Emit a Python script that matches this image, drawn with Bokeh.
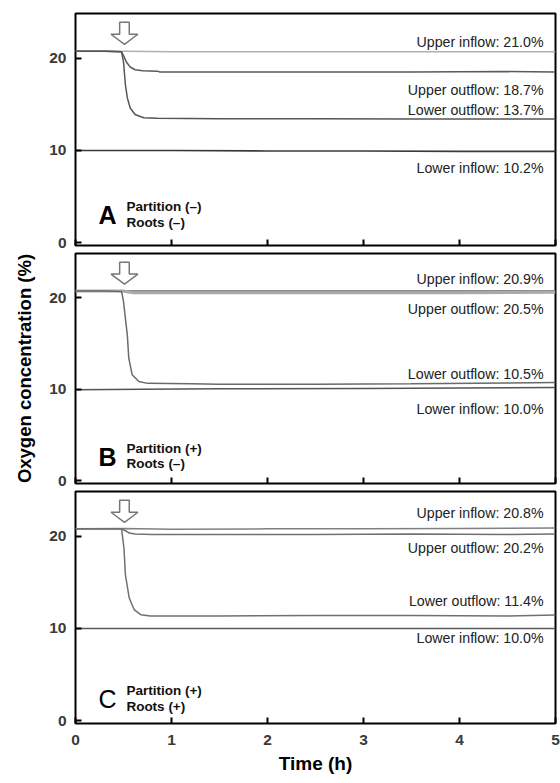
from bokeh.plotting import figure
from bokeh.layouts import column
from bokeh.models import Range1d, FixedTicker, CustomJSTickFormatter, Label
from bokeh.embed import file_html
from bokeh.resources import INLINE

# ---------------- data ----------------
x_ticks = [0, 1, 2, 3, 4, 5]
y_ticks = [0, 10, 20]
event_time = 0.51          # time of the treatment (arrow)

# Panel A  Partition (-) Roots (-)
A_ui_t = [0, 0.5, 1, 2, 3, 4, 5]
A_ui_v = [20.75, 20.75, 20.7, 20.7, 20.7, 20.7, 20.7]
A_uo_t = [0, 0.3, 0.48, 0.5, 0.53, 0.57, 0.62, 0.7, 0.85, 0.88, 1.5, 2.5, 3.5, 4.5, 5]
A_uo_v = [20.75, 20.75, 20.7, 20.3, 19.6, 19.05, 18.75, 18.65, 18.6, 18.5, 18.5, 18.5, 18.5, 18.55, 18.5]
A_lo_t = [0, 0.3, 0.48, 0.5, 0.52, 0.54, 0.57, 0.62, 0.71, 0.85, 1.5, 2.5, 3.5, 4.5, 5]
A_lo_v = [20.75, 20.75, 20.7, 19.6, 17.1, 15.7, 14.6, 13.9, 13.55, 13.5, 13.45, 13.45, 13.4, 13.4, 13.4]
A_li_t = [0, 1, 2, 3, 4, 5]
A_li_v = [10.0, 10.0, 9.95, 9.95, 9.9, 9.9]

# Panel B  Partition (+) Roots (-)
B_ui_t = [0, 0.5, 1, 2, 3, 4, 5]
B_ui_v = [20.75, 20.75, 20.75, 20.75, 20.75, 20.75, 20.75]
B_uo_t = [0, 0.5, 0.55, 0.6, 1, 2, 3, 4, 5]
B_uo_v = [20.75, 20.75, 20.65, 20.55, 20.55, 20.55, 20.55, 20.55, 20.6]
B_lo_t = [0, 0.3, 0.48, 0.5, 0.54, 0.555, 0.59, 0.66, 0.75, 1.2, 1.5, 2.5, 3.5, 4.5, 5]
B_lo_v = [20.75, 20.75, 20.7, 19.6, 15.9, 13.4, 11.6, 10.85, 10.65, 10.6, 10.55, 10.55, 10.6, 10.7, 10.75]
B_li_t = [0, 0.7, 1.5, 3, 5]
B_li_v = [9.95, 10.0, 10.05, 10.1, 10.2]

# Panel C  Partition (+) Roots (+)
C_ui_t = [0, 0.5, 1, 2, 3, 4, 5]
C_ui_v = [20.8, 20.85, 20.75, 20.8, 20.8, 20.85, 20.9]
C_uo_t = [0, 0.48, 0.52, 0.56, 0.62, 0.8, 1.5, 2.5, 3.5, 4.5, 5]
C_uo_v = [20.8, 20.8, 20.6, 20.35, 20.25, 20.2, 20.2, 20.2, 20.25, 20.2, 20.25]
C_lo_t = [0, 0.48, 0.505, 0.52, 0.56, 0.61, 0.68, 0.78, 1.5, 2.5, 3.5, 4.5, 5]
C_lo_v = [20.8, 20.8, 18.7, 15.8, 13.3, 12.05, 11.5, 11.35, 11.35, 11.4, 11.4, 11.35, 11.45]
C_li_t = [0, 1, 2, 3, 4, 5]
C_li_v = [10.0, 10.0, 10.0, 10.0, 10.0, 10.0]

panel_letters = ["A", "B", "C"]
partition_texts = ["Partition (\u2013)", "Partition (+)", "Partition (+)"]
roots_texts = ["Roots (\u2013)", "Roots (\u2013)", "Roots (+)"]
series_names = ["Upper inflow", "Upper outflow", "Lower outflow", "Lower inflow"]
A_pct = ["21.0", "18.7", "13.7", "10.2"]
B_pct = ["20.9", "20.5", "10.5", "10.0"]
C_pct = ["20.8", "20.2", "11.4", "10.0"]

FONT = "Liberation Sans"


def make_panel(series, pcts, label_ys, letter, part, roots, letter_y, part_y, roots_y,
               colors, widths, top_border, bottom_border, height, bottom_axis_labels):
    p = figure(width=560, height=height, output_backend="svg", toolbar_location=None,
               x_range=Range1d(0, 5), y_range=Range1d(-0.3, 24.85),
               min_border_left=75, min_border_right=5,
               min_border_top=top_border, min_border_bottom=bottom_border)
    p.grid.visible = False
    p.outline_line_color = "black"
    p.outline_line_width = 2
    p.background_fill_color = "white"
    p.border_fill_color = "white"

    for ax in (p.xaxis[0], p.yaxis[0]):
        ax.axis_line_color = None
        ax.major_tick_in = 6
        ax.major_tick_out = 0
        ax.minor_tick_line_color = None
        ax.major_tick_line_color = "black"
        ax.major_tick_line_width = 2
        ax.major_label_text_font = FONT
        ax.major_label_text_font_style = "bold"
        ax.major_label_text_font_size = "15.5px"
        ax.major_label_text_color = "#3a3a3a"
        ax.axis_label_text_font = FONT
        ax.axis_label_text_font_style = "bold"
        ax.axis_label_text_font_size = "18.5px"
        ax.axis_label_text_color = "black"
    p.xaxis.ticker = FixedTicker(ticks=x_ticks)
    p.yaxis.ticker = FixedTicker(ticks=y_ticks)
    p.yaxis.major_label_standoff = 9
    p.yaxis.axis_label_standoff = 11
    if bottom_axis_labels:
        p.xaxis.major_label_standoff = 11
        p.xaxis.axis_label_standoff = 5
        p.xaxis.axis_label_text_font_size = "19px"
    else:
        p.xaxis.formatter = CustomJSTickFormatter(code="return ''")
        p.xaxis.major_label_text_font_size = "0px"
        p.xaxis.major_label_standoff = 0

    # curves
    for (t, v), c, w in zip(series, colors, widths):
        p.line(t, v, line_color=c, line_width=w)

    # arrow marking the treatment time
    hw_shaft, hw_head = 0.05, 0.14
    y_top, y_base, y_tip = 23.9, 22.6, 21.5
    ax_ = [event_time - hw_shaft, event_time + hw_shaft, event_time + hw_shaft,
           event_time + hw_head, event_time, event_time - hw_head, event_time - hw_shaft]
    ay_ = [y_top, y_top, y_base, y_base, y_tip, y_base, y_base]
    p.patch(ax_, ay_, fill_color="white", line_color="#777777", line_width=1.5)

    # right-hand labels
    for name, pct, ly in zip(series_names, pcts, label_ys):
        p.add_layout(Label(x=4.875, y=ly, text=f"{name}: {pct}%", text_align="right",
                           text_baseline="middle", text_font=FONT, text_font_size="14.2px",
                           text_color="#222222"))

    # panel letter and condition texts
    p.add_layout(Label(x=0.24, y=letter_y, text=letter, text_align="left",
                       text_baseline="alphabetic", text_font=FONT, text_font_size="25px",
                       text_font_style="bold" if letter != "C" else "normal", text_color="black"))
    p.add_layout(Label(x=0.53, y=part_y, text=part, text_baseline="middle", text_font=FONT,
                       text_font_size="13.5px", text_font_style="bold", text_color="#111111"))
    p.add_layout(Label(x=0.53, y=roots_y, text=roots, text_baseline="middle", text_font=FONT,
                       text_font_size="13.5px", text_font_style="bold", text_color="#111111"))
    return p


pA = make_panel([(A_ui_t, A_ui_v), (A_uo_t, A_uo_v), (A_lo_t, A_lo_v), (A_li_t, A_li_v)],
                A_pct, [21.8, 16.6, 14.4, 8.1], panel_letters[0], partition_texts[0], roots_texts[0],
                3.05, 3.9, 2.2,
                ["#b0b0b0", "#5a5a5a", "#555555", "#3a3a3a"], [1.5, 1.5, 1.5, 1.6],
                13, 6, 251, False)
pB = make_panel([(B_ui_t, B_ui_v), (B_uo_t, B_uo_v), (B_lo_t, B_lo_v), (B_li_t, B_li_v)],
                B_pct, [22.1, 18.75, 11.7, 7.9], panel_letters[1], partition_texts[1], roots_texts[1],
                2.65, 3.5, 1.9,
                ["#666666", "#aaaaaa", "#6a6a6a", "#555555"], [1.4, 3, 1.5, 1.5],
                2, 6, 238, False)
pB.yaxis.axis_label = "Oxygen concentration (%)"
pC = make_panel([(C_ui_t, C_ui_v), (C_uo_t, C_uo_v), (C_lo_t, C_lo_v), (C_li_t, C_li_v)],
                C_pct, [22.5, 18.7, 13.0, 9.0], panel_letters[2], partition_texts[2], roots_texts[2],
                2.35, 3.3, 1.55,
                ["#808080", "#707070", "#707070", "#5a5a5a"], [1.5, 1.5, 1.5, 1.5],
                2, 60, 294, True)
pC.xaxis.axis_label = "Time (h)"

layout = column(pA, pB, pC, spacing=0)
open("out.html", "w").write(file_html(layout, INLINE))
